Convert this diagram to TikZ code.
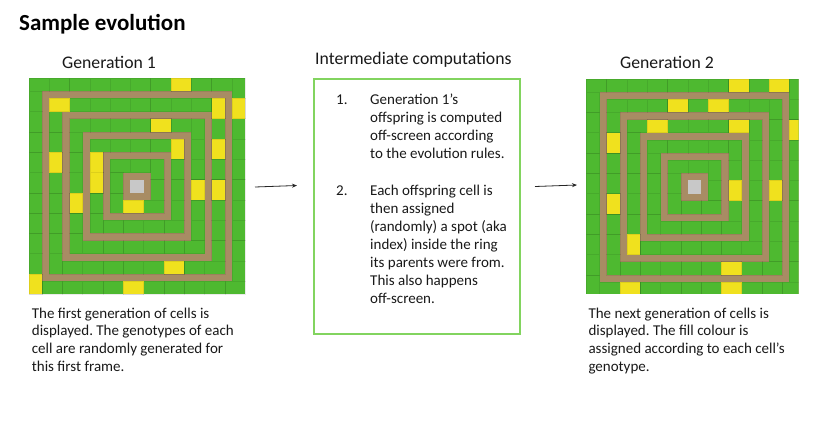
\documentclass[tikz,border=0pt]{standalone}
\usepackage{fontspec}
\setmainfont{Carlito}
\usetikzlibrary{arrows.meta}
\definecolor{cgreen}{RGB}{78,185,48}
\definecolor{cyellow}{RGB}{240,225,30}
\definecolor{cbrown}{RGB}{168,140,100}
\definecolor{cgray}{RGB}{200,200,200}
\definecolor{cbox}{RGB}{130,212,95}
\definecolor{ctext}{RGB}{25,25,25}
\def\gP{20.3}
\def\gT{13.2}
\def\gR{108.1}
% one cell: #1 side (0 top,1 right,2 bottom,3 left), #2 ring, #3 index, #4 colour
\newcommand\gcell[4]{%
  \pgfmathsetmacro\gO{#2*\gP+\gT/2}%
  \pgfmathsetmacro\ga{#3*\gP}%
  \pgfmathsetmacro\gb{(#3+1)*\gP}%
  \ifcase#1\relax
    \path[cellst,fill=#4] (-\gO+\ga,-\gO) rectangle (-\gO+\gb,-\gO+\gT);
  \or
    \path[cellst,fill=#4] (\gO-\gT,-\gO+\ga) rectangle (\gO,-\gO+\gb);
  \or
    \path[cellst,fill=#4] (\gO-\gb,\gO-\gT) rectangle (\gO-\ga,\gO);
  \or
    \path[cellst,fill=#4] (-\gO,\gO-\gb) rectangle (-\gO+\gT,\gO-\ga);
  \fi}
\newcommand\gridbase{%
  \fill[cbrown] (-\gR,-\gR) rectangle (\gR,\gR);
  \foreach \j in {1,...,5}{%
    \pgfmathtruncatemacro\gn{2*\j-1}%
    \foreach \s in {0,...,3}{%
      \foreach \k in {0,...,\gn}{\gcell{\s}{\j}{\k}{cgreen}}}}%
}
\newcommand\gridcentre{%
  \fill[cgray] (-\gT/2,-\gT/2) rectangle (\gT/2,\gT/2);}
\frenchspacing
\begin{document}
\begin{tikzpicture}[x=1pt,y=-1pt,
  cellst/.style={draw=black,draw opacity=0.08,line width=0.5pt},
  heading/.style={font=\fontsize{17.7}{21}\selectfont,text=ctext,anchor=base west,inner sep=0pt},
  body/.style={font=\fontsize{15}{17.6}\selectfont,text=ctext,anchor=north west,inner sep=0pt,align=left},
  listtext/.style={font=\fontsize{15}{18.1}\selectfont,text=ctext,anchor=north west,inner sep=0pt,align=left},
  conn/.style={line width=0.8pt,black!85,-{Stealth[length=5pt,width=4pt]}}]
\useasboundingbox (0,0) rectangle (831,426);
\fill[white] (0,0) rectangle (831,426);

% title
\node[font=\bfseries\fontsize{23}{27}\selectfont,anchor=base west,inner sep=0pt] (title) at (19,30) {Sample evolution};

% headings
\node[heading] (h1) at (62,68) {Generation 1};
\node[heading] (hm) at (315,64) {Intermediate computations};
\node[heading] (h2) at (620,68) {Generation 2};

% generation 1 grid
\begin{scope}[shift={(137,186.2)}]
  \gridbase
  \foreach \s/\j/\k in {0/5/7,0/4/0,1/4/0,1/5/1,0/3/4,1/2/0,1/4/2,3/4/5,3/2/2,3/2/3,1/3/3,1/4/4,3/3/2,2/1/1,2/4/2,3/5/0,2/5/5}{\gcell{\s}{\j}{\k}{cyellow}}
  \gridcentre
\end{scope}
\node[minimum size=216pt,inner sep=0pt] (g1) at (137,186.2) {};

% generation 2 grid
\begin{scope}[shift={(694.5,187)}]
  \clip (-\gR-1,-\gR-1) rectangle (104,106.3);
  \gridbase
  \foreach \s/\j/\k in {0/5/7,0/5/9,0/4/3,0/4/5,0/3/1,0/3/5,1/5/2,3/4/6,1/2/2,1/4/4,3/4/3,3/3/0,2/4/2,2/5/8,2/5/3}{\gcell{\s}{\j}{\k}{cyellow}}
  \gridcentre
\end{scope}
\node[minimum size=212pt,inner sep=0pt] (g2) at (692,186) {};

% intermediate box
\node[draw=cbox,line width=1.8pt,minimum width=205.4pt,minimum height=254.7pt,inner sep=0pt] (mid) at (417,206.6) {};
\node[font=\fontsize{15}{18}\selectfont,text=ctext,anchor=base west,inner sep=0pt] (n1) at (336,104.3) {1.};
\node[listtext] (t1) at (370,91.7) {\strut Generation 1’s\\offspring is computed\\off-screen according\\to the evolution rules.};
\node[font=\fontsize{15}{18}\selectfont,text=ctext,anchor=base west,inner sep=0pt] (n2) at (336,195) {2.};
\node[listtext] (t2) at (370,182.4) {\strut Each offspring cell is\\then assigned\\(randomly) a spot (aka\\index) inside the ring\\its parents were from.\\This also happens\\off-screen.};

% captions
\node[body] (c1) at (31.7,305.7) {\strut The first generation of cells is\\displayed. The genotypes of each\\cell are randomly generated for\\this first frame.};
\node[body] (c2) at (588.3,305.7) {\strut The next generation of cells is\\displayed. The fill colour is\\assigned according to each cell’s\\genotype.};

% arrows
\coordinate (a1s) at (255,187);
\coordinate (a1e) at (297,185.5);
\coordinate (a2s) at (535,186.5);
\coordinate (a2e) at (577,185);
\draw[conn] (a1s) -- (a1e);
\draw[conn] (a2s) -- (a2e);
\end{tikzpicture}
\end{document}
